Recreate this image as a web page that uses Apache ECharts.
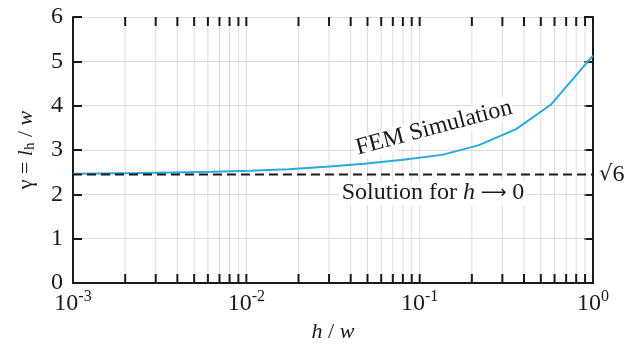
<!DOCTYPE html>
<html>
<head>
<meta charset="utf-8">
<script src="https://cdn.jsdelivr.net/npm/echarts@6/dist/echarts.min.js"></script>
<style>
  html, body { margin: 0; padding: 0; background: #fff; }
  #chart { width: 636px; height: 346px; }
</style>
</head>
<body>
<div id="chart"></div>
<script>
// h / w values of the FEM runs and the gamma
const femH = [0.001, 0.0014, 0.0023, 0.0038, 0.0063, 0.0105, 0.0175, 0.029, 0.048, 0.08, 0.135, 0.22, 0.36, 0.57, 1]
const femGamma = [2.465, 2.47, 2.48, 2.495, 2.51, 2.53, 2.565, 2.62, 2.69, 2.78, 2.89, 3.11, 3.47, 4.02, 5.13]
const limitH = [0.001, 1]
const limitGamma = [Math.sqrt(6), Math.sqrt(6)]

// minor positions 2..9 in every decade, plus the inner decades
let minorX = []
for (let d = -3; d < 0; d++) {
  for (let k = 1; k <= 9; k++) {
    if (d === -3 && k === 1) continue
    minorX.push(k * Math.pow(10, d))
  }
}

const FONT = 'Liberation Serif'
const BLACK = '#1a1a1a'
const GRIDC = '#dcdcdc'

let chartDom = document.getElementById('chart')
let myChart = echarts.init(chartDom, null, { renderer: 'canvas' })

let option = {
  animation: false,
  textStyle: { fontFamily: FONT },
  grid: { left: 73, right: 43, top: 17, bottom: 63, containLabel: false, outerBoundsMode: 'none' },
  xAxis: [
    {
      type: 'log',
      logBase: 10,
      min: 0.001,
      max: 1,
      name: '{i|h}{n| / }{i|w}',
      nameLocation: 'middle',
      nameGap: 38,
      nameTextStyle: {
        rich: {
          i: { fontFamily: FONT, fontSize: 22, fontStyle: 'italic', color: BLACK },
          n: { fontFamily: FONT, fontSize: 22, color: BLACK },
        },
      },
      axisLine: { show: true, lineStyle: { color: BLACK, width: 2 } },
      axisTick: { show: false },
      splitLine: { show: false },
      axisLabel: {
        margin: 6,
        formatter: value => {
          let e = Math.round(Math.log10(value))
          return '{b|10}{e|' + e + '}'
        },
        rich: {
          b: { fontFamily: FONT, fontSize: 24, color: BLACK, lineHeight: 26 },
          e: { fontFamily: FONT, fontSize: 16, color: BLACK, padding: [0, 0, 14, 0] },
        },
      },
    },
    {
      type: 'log',
      logBase: 10,
      min: 0.001,
      max: 1,
      position: 'top',
      axisLine: { show: true, lineStyle: { color: BLACK, width: 2 } },
      axisTick: { show: false },
      axisLabel: { show: false },
      splitLine: { show: false },
    },
  ],
  yAxis: [
    {
      type: 'value',
      min: 0,
      max: 6,
      interval: 1,
      name: '{n|γ = }{i|l}{s|h}{n| / }{i|w}',
      nameLocation: 'middle',
      nameGap: 34,
      nameRotate: 90,
      nameTextStyle: {
        rich: {
          i: { fontFamily: FONT, fontSize: 22, fontStyle: 'italic', color: BLACK, lineHeight: 26 },
          n: { fontFamily: FONT, fontSize: 22, color: BLACK, lineHeight: 26 },
          s: { fontFamily: FONT, fontSize: 15, color: BLACK, lineHeight: 26, padding: [9, 0, 0, 0] },
        },
      },
      axisLine: { show: true, lineStyle: { color: BLACK, width: 2 } },
      axisTick: { show: true, inside: true, length: 9, lineStyle: { color: BLACK, width: 2 } },
      axisLabel: { margin: 10, fontFamily: FONT, fontSize: 24, color: BLACK },
      splitLine: { show: true, lineStyle: { color: GRIDC, width: 1 } },
    },
    {
      type: 'value',
      min: 0,
      max: 6,
      interval: 1,
      position: 'right',
      axisLine: { show: true, lineStyle: { color: BLACK, width: 2 } },
      axisTick: { show: true, inside: true, length: 9, lineStyle: { color: BLACK, width: 2 } },
      axisLabel: { show: false },
      splitLine: { show: false },
    },
  ],
  series: [
    {
      // vertical grid lines and the inward x ticks (top and bottom)
      type: 'custom',
      z: 1,
      silent: true,
      data: minorX.map(v => [v]),
      renderItem: (params, api) => {
        let v = api.value(0)
        let pb = api.coord([v, 0])
        let pt = api.coord([v, 6])
        return {
          type: 'group',
          children: [
            {
              type: 'line',
              shape: { x1: pb[0], y1: pb[1], x2: pt[0], y2: pt[1] },
              style: { stroke: GRIDC, lineWidth: 1 },
            },
            {
              type: 'line',
              shape: { x1: pb[0], y1: pb[1], x2: pb[0], y2: pb[1] - 9 },
              style: { stroke: BLACK, lineWidth: 2 },
            },
            {
              type: 'line',
              shape: { x1: pt[0], y1: pt[1], x2: pt[0], y2: pt[1] + 9 },
              style: { stroke: BLACK, lineWidth: 2 },
            },
          ],
        }
      },
    },
    {
      name: 'FEM Simulation',
      type: 'line',
      z: 4,
      data: femH.map((h, i) => [h, femGamma[i]]),
      symbol: 'none',
      lineStyle: { color: '#29a9e0', width: 2 },
    },
    {
      name: 'Solution',
      type: 'line',
      z: 5,
      data: limitH.map((h, i) => [h, limitGamma[i]]),
      symbol: 'none',
      lineStyle: { color: BLACK, width: 2, type: [9, 5] },
      endLabel: {
        show: true,
        formatter: '{r|√}{o|6}',
        distance: 6,
        rich: {
          r: { fontFamily: 'DejaVu Serif', fontSize: 21, color: BLACK },
          o: { fontFamily: FONT, fontSize: 24, color: BLACK },
        },
      },
    },
  ],
  graphic: [
    {
      type: 'text',
      x: 434,
      y: 128,
      rotation: 0.26,
      z: 3,
      style: {
        text: 'FEM Simulation',
        font: '24px "Liberation Serif"',
        fill: BLACK,
        align: 'center',
        verticalAlign: 'middle',
        backgroundColor: '#fff',
        padding: [0, 2],
      },
    },
    {
      type: 'text',
      x: 433,
      y: 193,
      z: 10,
      style: {
        text: '{n|Solution for }{i|h}{a| ⟶ }{n|0}',
        align: 'center',
        verticalAlign: 'middle',
        backgroundColor: '#fff',
        padding: [0, 3],
        rich: {
          n: { fontFamily: FONT, fontSize: 24, fill: BLACK },
          i: { fontFamily: FONT, fontSize: 24, fontStyle: 'italic', fill: BLACK },
          a: { fontFamily: 'DejaVu Sans', fontSize: 18, fill: BLACK },
        },
      },
    },
  ],
}
myChart.setOption(option)
</script>
</body>
</html>
